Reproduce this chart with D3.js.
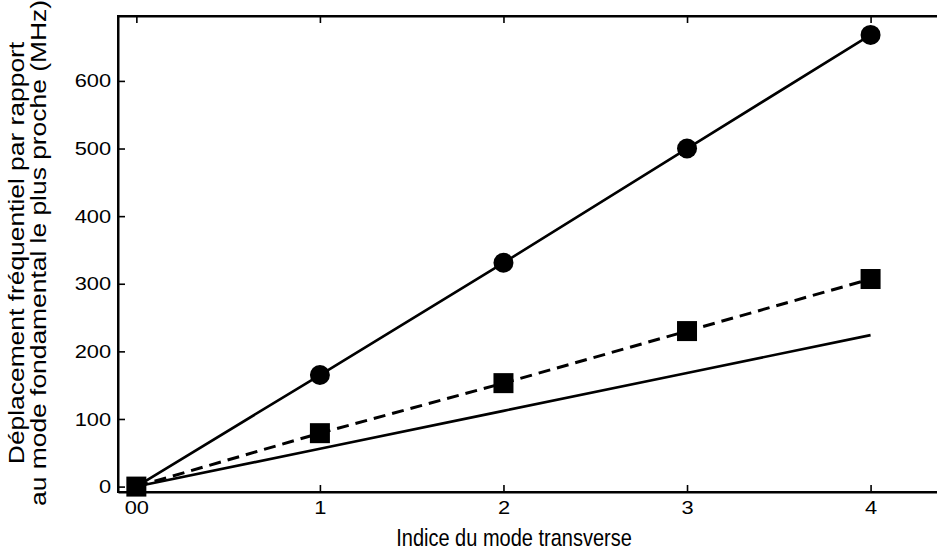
<!DOCTYPE html>
<html>
<head>
<meta charset="utf-8">
<script src="https://cdn.jsdelivr.net/npm/d3@7"></script>
<style>
  html, body { margin: 0; padding: 0; background: #fff; }
  svg { display: block; }
  text { font-family: "Liberation Sans", Arial, sans-serif; fill: #000; }
</style>
</head>
<body>
<svg id="chart" width="937" height="555"></svg>
<script>
// ---- data ----
const modeIndex = [0, 1, 2, 3, 4];
const circleValues = [0, 165, 331, 500, 668];     // solid line with circles
const squareValues = [0, 79, 153, 230, 307];      // dashed line with squares
const theoryValues = [0, 56, 112, 168, 224];      // plain solid line
const xTickValues = [0, 1, 2, 3, 4];
const xTickLabels = ["00", "1", "2", "3", "4"];
const yTickValues = [0, 100, 200, 300, 400, 500, 600];
const xLabel = "Indice du mode transverse";
const yLabelLines = ["Déplacement fréquentiel par rapport", "au mode fondamental le plus proche (MHz)"];

(function () {
// ---- layout ----
const svg = d3.select("#chart");
const mLeft = 118, mRight = 944, mTop = 16, mBottom = 492;

const x = d3.scaleLinear().domain([-0.1, 4.4]).range([mLeft, mRight]);
const y = d3.scaleLinear().domain([-8, 696]).range([mBottom, mTop]);

const tickLen = 7;

const gBottom = svg.append("g").attr("transform", `translate(0,${mBottom})`)
  .call(d3.axisBottom(x).tickValues(xTickValues).tickFormat((d, i) => xTickLabels[i])
        .tickSizeInner(-tickLen).tickSizeOuter(0).tickPadding(9));
const gTop = svg.append("g").attr("transform", `translate(0,${mTop})`)
  .call(d3.axisTop(x).tickValues(xTickValues).tickFormat("")
        .tickSizeInner(-tickLen).tickSizeOuter(0));
const gLeft = svg.append("g").attr("transform", `translate(${mLeft},0)`)
  .call(d3.axisLeft(y).tickValues(yTickValues).tickFormat(d3.format("d"))
        .tickSizeInner(-tickLen).tickSizeOuter(0).tickPadding(6));
const gRight = svg.append("g").attr("transform", `translate(${mRight},0)`)
  .call(d3.axisRight(y).tickValues(yTickValues).tickFormat("")
        .tickSizeInner(-tickLen).tickSizeOuter(0));

[gBottom, gTop, gLeft, gRight].forEach(g => {
  g.select(".domain").attr("stroke", "#000").attr("stroke-width", 2);
  g.selectAll(".tick line").attr("stroke", "#000").attr("stroke-width", 1.6);
  g.selectAll(".tick text").attr("font-size", 19).attr("font-family", "Liberation Sans, Arial, sans-serif")
    .attr("fill", "#000").attr("transform", "scale(1.15,1)");
});
svg.append("rect").attr("x", mLeft).attr("y", mTop).attr("width", mRight - mLeft).attr("height", mBottom - mTop)
  .attr("fill", "none").attr("stroke", "#000").attr("stroke-width", 2);

// ---- lines ----
const line = d3.line().x(d => x(d[0])).y(d => y(d[1]));
const pairs = vals => modeIndex.map((m, i) => [m, vals[i]]);

svg.append("path").datum(pairs(theoryValues)).attr("d", line)
  .attr("fill", "none").attr("stroke", "#000").attr("stroke-width", 2.6);
svg.append("path").datum(pairs(squareValues)).attr("d", line)
  .attr("fill", "none").attr("stroke", "#000").attr("stroke-width", 3).attr("stroke-dasharray", "12,7");
svg.append("path").datum(pairs(circleValues)).attr("d", line)
  .attr("fill", "none").attr("stroke", "#000").attr("stroke-width", 2.6);

// ---- markers ----
svg.append("g").selectAll("circle").data(pairs(circleValues).slice(1)).join("circle")
  .attr("cx", d => x(d[0])).attr("cy", d => y(d[1])).attr("r", 10).attr("fill", "#000");
const sq = 20;
svg.append("g").selectAll("rect").data(pairs(squareValues)).join("rect")
  .attr("x", d => x(d[0]) - sq / 2).attr("y", d => y(d[1]) - sq / 2)
  .attr("width", sq).attr("height", sq).attr("fill", "#000");

// ---- axis labels ----
svg.append("text").attr("transform", "translate(514,546) scale(1,1.22)").attr("text-anchor", "middle")
  .attr("font-size", 20).text(xLabel);
const yl = svg.append("text").attr("transform", "translate(0,253) rotate(-90) scale(1.2,1)").attr("text-anchor", "middle")
  .attr("font-size", 22);
yl.append("tspan").attr("x", 0).attr("y", 24).text(yLabelLines[0]);
yl.append("tspan").attr("x", 0).attr("y", 46).text(yLabelLines[1]);
})();
</script>
</body>
</html>
